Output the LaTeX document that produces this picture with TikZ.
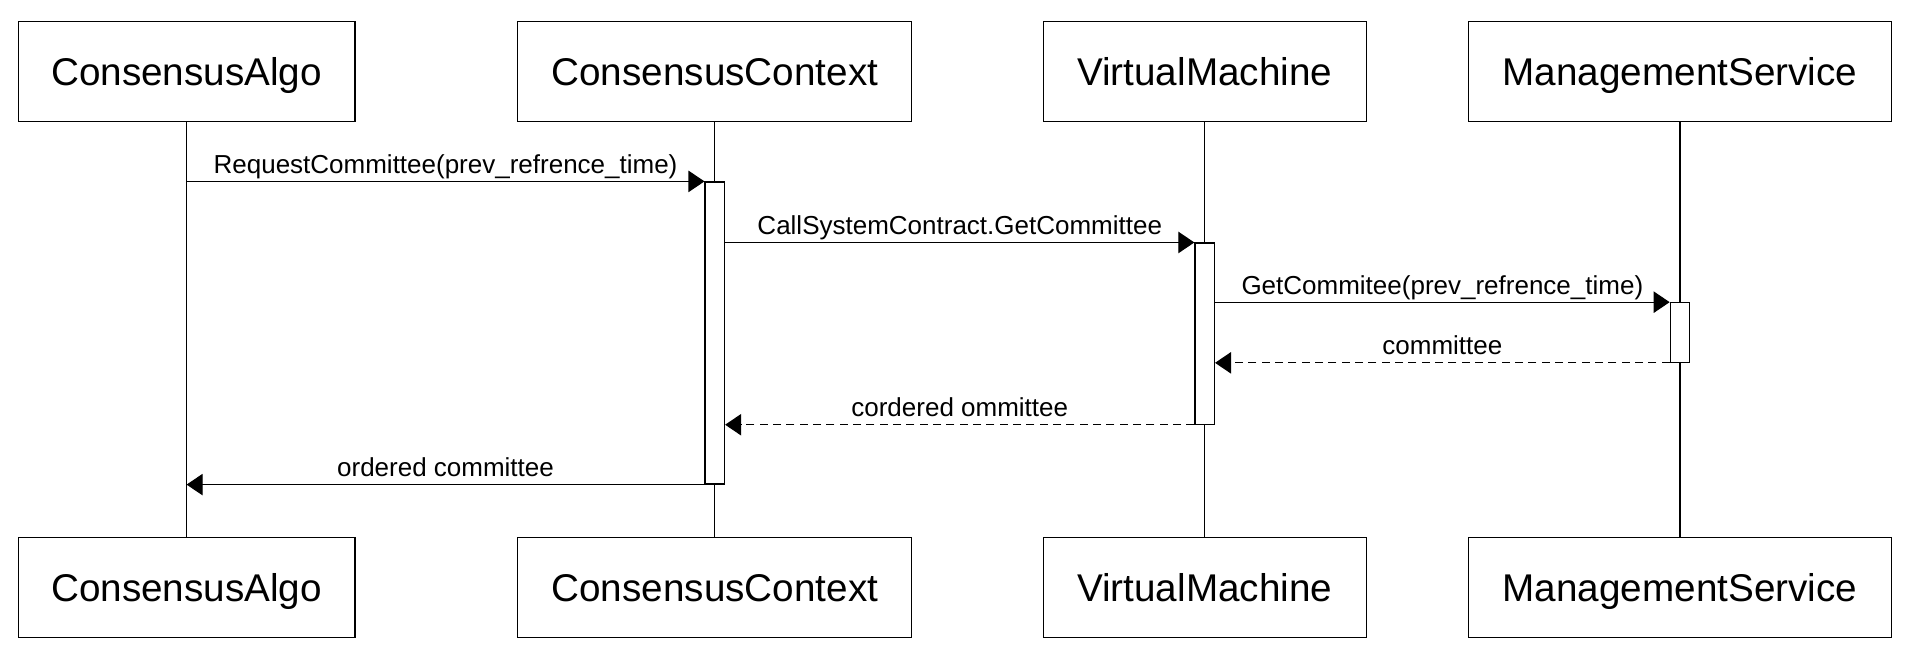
\documentclass[tikz,border=0pt]{standalone}
\usepackage{fontspec}
\setsansfont{Liberation Sans}
\usetikzlibrary{arrows.meta}

\tikzset{
  actor/.style={draw, fill=white, line width=0.9pt, minimum height=75pt, inner sep=0pt,
    text height=20.8pt, text depth=0pt, font=\sffamily\fontsize{29}{34}\selectfont},
  actbar/.style={draw, fill=white, line width=0.9pt, minimum width=14.6pt, inner sep=0pt},
  msg/.style={line width=0.9pt, -{Triangle[length=12pt,width=16pt]}},
  reply/.style={msg, dash pattern=on 6pt off 4pt},
  lbl/.style={font=\sffamily\fontsize{19.5}{23}\selectfont, inner sep=3pt, text height=14pt, text depth=2.5pt}
}

\begin{document}
\begin{tikzpicture}[x=0.75pt, y=-0.75pt, font=\sffamily]
        \useasboundingbox (0,0) rectangle (1906,646);
        % participants, top and bottom
        \node[actor, minimum width=252.6pt] (algo) at (186.6,71.8) {ConsensusAlgo};
        \node[actor, minimum width=295.4pt] (ctx) at (714.8,71.8) {ConsensusContext};
        \node[actor, minimum width=242.3pt] (vm) at (1204.7,71.8) {VirtualMachine};
        \node[actor, minimum width=317.3pt] (mgmt) at (1680,71.8) {ManagementService};
        \node[actor, minimum width=252.6pt] (algo2) at (186.6,587.2) {ConsensusAlgo};
        \node[actor, minimum width=295.4pt] (ctx2) at (714.8,587.2) {ConsensusContext};
        \node[actor, minimum width=242.3pt] (vm2) at (1204.7,587.2) {VirtualMachine};
        \node[actor, minimum width=317.3pt] (mgmt2) at (1680,587.2) {ManagementService};
        \foreach \p in {algo,ctx,vm,mgmt} \draw[line width=0.9pt] (\p.south) -- (\p2.north);
        % activations
        \node[actbar, minimum height=226.5pt] (ctxbar) at (714.8,333) {};
        \node[actbar, minimum height=135.8pt] (vmbar) at (1204.7,333.6) {};
        \node[actbar, minimum height=44.6pt] (mgmtbar) at (1680,332.5) {};
        % messages
        \draw[msg] (algo.south |- ctxbar.north west) -- (ctxbar.north west) node[lbl, midway, above] {RequestCommittee(prev\_refrence\_time)};
        \draw[msg] (ctxbar.east |- vmbar.north) -- (vmbar.north west) node[lbl, midway, above] {CallSystemContract.GetCommittee};
        \draw[msg] (vmbar.east |- mgmtbar.north) -- (mgmtbar.north west) node[lbl, midway, above] {GetCommitee(prev\_refrence\_time)};
        \draw[reply] (mgmtbar.south west) -- (vmbar.east |- mgmtbar.south) node[lbl, midway, above] {committee};
        \draw[reply] (vmbar.south west) -- (ctxbar.east |- vmbar.south) node[lbl, midway, above] {cordered ommittee};
        \draw[msg] (ctxbar.south west) -- (algo.south |- ctxbar.south) node[lbl, midway, above] {ordered committee};
\end{tikzpicture}
\end{document}
